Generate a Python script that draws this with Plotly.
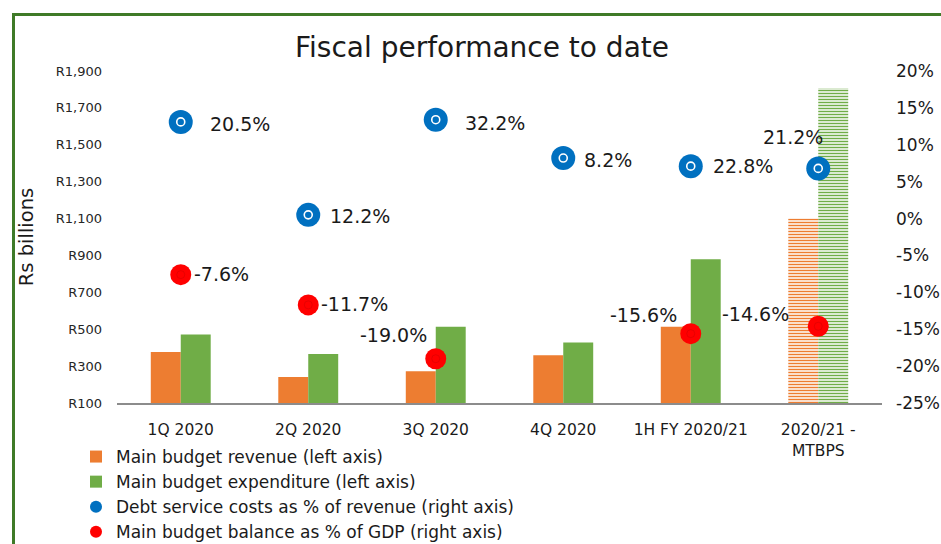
import plotly.graph_objects as go

# ---- data ----
categories = ["1Q 2020", "2Q 2020", "3Q 2020", "4Q 2020", "1H FY 2020/21", "2020/21 -<br>MTBPS"]
revenue = [377, 241, 272, 359, 513, 1100]          # Rs billions, left axis
expenditure = [471, 366, 513, 428, 880, 1808]      # Rs billions, left axis
debt_service_plotted = [13.1, 0.5, 13.4, 8.2, 7.1, 6.8]   # marker positions on right axis (%)
debt_service_labels = ["20.5%", "12.2%", "32.2%", "8.2%", "22.8%", "21.2%"]
balance = [-7.6, -11.7, -19.0, None, -15.6, -14.6]        # % of GDP, right axis
balance_labels = ["-7.6%", "-11.7%", "-19.0%", "", "-15.6%", "-14.6%"]
left_ticks = [100, 300, 500, 700, 900, 1100, 1300, 1500, 1700, 1900]
left_tick_text = ["R100", "R300", "R500", "R700", "R900", "R1,100", "R1,300", "R1,500", "R1,700", "R1,900"]
right_ticks = [-25, -20, -15, -10, -5, 0, 5, 10, 15, 20]
right_tick_text = ["-25%", "-20%", "-15%", "-10%", "-5%", "0%", "5%", "10%", "15%", "20%"]
projected = [False, False, False, False, False, True]

ORANGE = "#ED7D31"
GREEN = "#70AD47"
BLUE = "#0070C0"
RED = "#FF0000"
FONT = "DejaVu Sans"
TXT = "#1a1a1a"

W, H = 941, 544
ML, MR, MT, MB = 117, 59, 71, 141
PW, PH = W - ML - MR, H - MT - MB

pattern_shapes = ["-" if p else "" for p in projected]

fig = go.Figure()
fig.add_trace(go.Bar(
    x=categories, y=revenue, name="Main budget revenue (left axis)",
    marker=dict(color=ORANGE, line=dict(width=0),
                pattern=dict(shape=pattern_shapes, fgcolor=ORANGE, bgcolor="white",
                             size=3, solidity=0.5, fillmode="replace")),
    yaxis="y",
))
fig.add_trace(go.Bar(
    x=categories, y=expenditure, name="Main budget expenditure (left axis)",
    marker=dict(color=GREEN, line=dict(width=0),
                pattern=dict(shape=pattern_shapes, fgcolor=GREEN, bgcolor="white",
                             size=3, solidity=0.5, fillmode="replace")),
    yaxis="y",
))
fig.add_trace(go.Scatter(
    x=categories, y=debt_service_plotted, mode="markers",
    name="Debt service costs as % of revenue (right axis)",
    marker=dict(color=BLUE, size=24, line=dict(width=0)),
    yaxis="y2",
))
fig.add_trace(go.Scatter(
    x=categories, y=debt_service_plotted, mode="markers", showlegend=False, hoverinfo="skip",
    marker=dict(symbol="circle-open", color="white", size=8, line=dict(width=1.6, color="white")),
    yaxis="y2",
))
fig.add_trace(go.Scatter(
    x=categories, y=balance, mode="markers",
    name="Main budget balance as % of GDP (right axis)",
    marker=dict(color=RED, size=21, line=dict(width=0)),
    yaxis="y2",
))
fig.add_trace(go.Scatter(
    x=categories, y=balance, mode="markers", showlegend=False, hoverinfo="skip",
    marker=dict(symbol="circle-open", color="rgba(190,0,0,0.35)", size=8,
                line=dict(width=1, color="rgba(190,0,0,0.35)")),
    yaxis="y2",
))

# label placement (style only): (xanchor, xshift, yshift)
blue_place = [("left", 27, -2), ("left", 20, -1), ("left", 27, -3), ("left", 19, -2),
              ("left", 20, 0), ("center", -25, 31)]
red_place = [("left", 11, 1), ("left", 11, 1), ("right", -7, 24), None,
             ("right", -12, 19), ("right", -27, 12)]

annotations = []
for c, v, t, p in zip(categories, debt_service_plotted, debt_service_labels, blue_place):
    annotations.append(dict(x=c, y=v, xref="x", yref="y2", text=t, showarrow=False,
                            xanchor=p[0], yanchor="middle", xshift=p[1], yshift=p[2],
                            font=dict(family=FONT, size=19, color=TXT)))
for c, v, t, p in zip(categories, balance, balance_labels, red_place):
    if v is None or p is None:
        continue
    annotations.append(dict(x=c, y=v, xref="x", yref="y2", text=t, showarrow=False,
                            xanchor=p[0], yanchor="middle", xshift=p[1], yshift=p[2],
                            font=dict(family=FONT, size=19, color=TXT)))

fig.update_layout(
    width=W, height=H,
    margin=dict(l=ML, r=MR, t=MT, b=MB, autoexpand=False),
    paper_bgcolor="white", plot_bgcolor="white",
    font=dict(family=FONT, color=TXT),
    barmode="group", bargap=0.53, bargroupgap=0,
    title=dict(text="Fiscal performance to date", x=482 / W, xref="container", xanchor="center",
               y=1 - 47 / H, yref="container", yanchor="middle",
               font=dict(family=FONT, size=28, color=TXT)),
    xaxis=dict(type="category", showline=True, linecolor="#8c8c8c", linewidth=1.5,
               showgrid=False, ticks="", ticklabelstandoff=12,
               tickfont=dict(family=FONT, size=15.5, color=TXT)),
    yaxis=dict(range=[100, 1900], tickvals=left_ticks, ticktext=left_tick_text,
               showgrid=False, zeroline=False, showline=False, ticks="",
               ticklabelstandoff=14,
               tickfont=dict(family=FONT, size=13, color="#262626"),
               title=dict(text="Rs billions", standoff=16,
                          font=dict(family=FONT, size=19.5, color=TXT))),
    yaxis2=dict(range=[-25, 20], tickvals=right_ticks, ticktext=right_tick_text,
                overlaying="y", side="right", showgrid=False, zeroline=False,
                showline=False, ticks="", ticklabelstandoff=13,
                tickfont=dict(family=FONT, size=17, color=TXT)),
    legend=dict(x=(76 - ML) / PW, xanchor="left", y=-(439 - (MT + PH)) / PH, yanchor="top",
                orientation="v", bgcolor="rgba(0,0,0,0)", itemsizing="constant",
                font=dict(family=FONT, size=17, color=TXT)),
    annotations=annotations,
    shapes=[dict(type="rect", xref="paper", yref="paper",
                 x0=(13.5 - ML) / PW, x1=(960 - ML) / PW,
                 y0=-(560 - (MT + PH)) / PH, y1=1 + (MT - 14.5) / PH,
                 line=dict(color="#3F7A28", width=3), fillcolor="rgba(0,0,0,0)", layer="below")],
    showlegend=True,
)

fig.write_html("out.html", config={"displayModeBar": False},
               post_script="document.body.style.margin='0';document.body.style.overflow='hidden';")
